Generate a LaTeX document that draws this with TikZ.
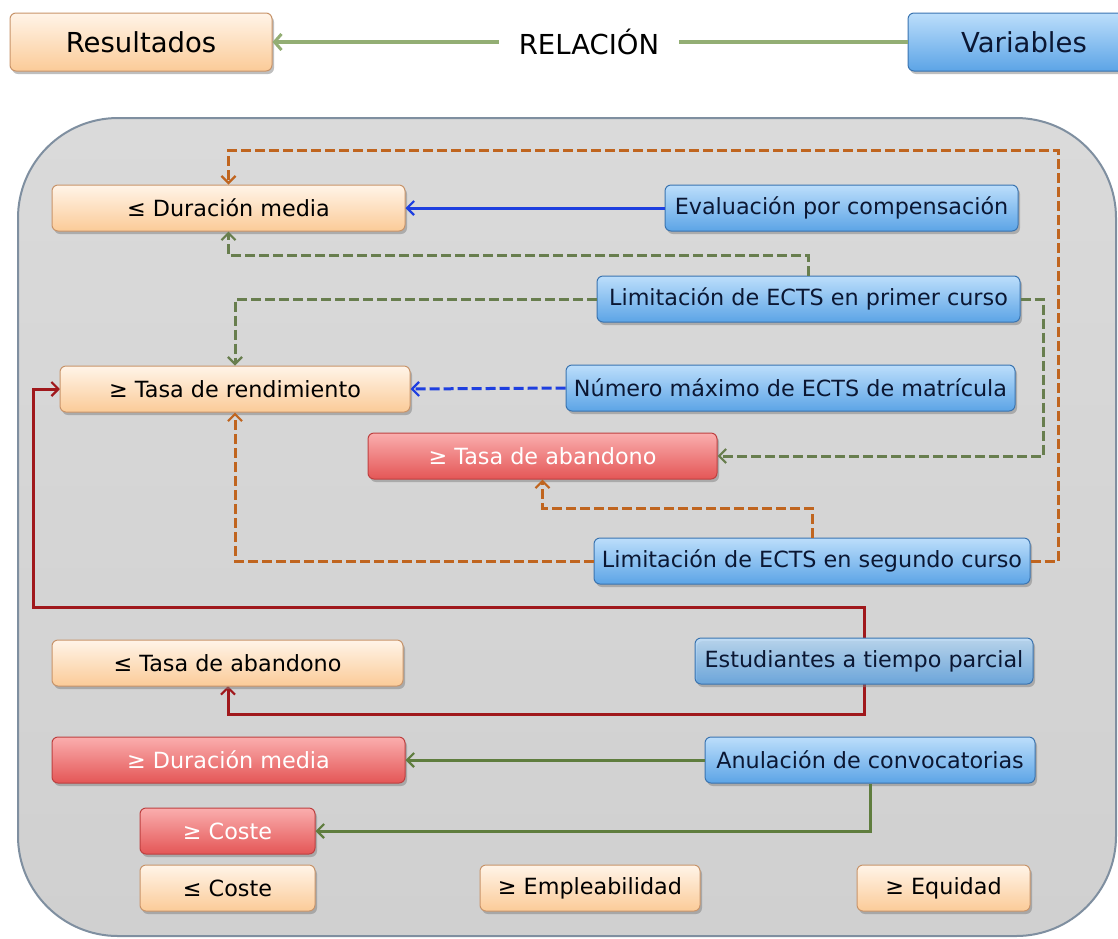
\documentclass[tikz,border=0pt]{standalone}
\usepackage{fontspec}
\setmainfont{DejaVu Sans}
\usetikzlibrary{arrows.meta,shadows}
\definecolor{peachT}{HTML}{FFF4E8}
\definecolor{peachB}{HTML}{FBCB98}
\definecolor{peachD}{HTML}{C8946A}
\definecolor{blueT}{HTML}{BCDEFB}
\definecolor{blueB}{HTML}{5CA4E6}
\definecolor{blueD}{HTML}{3A74B0}
\definecolor{redT}{HTML}{FAAEAE}
\definecolor{redB}{HTML}{E45656}
\definecolor{redD}{HTML}{BE4040}
\definecolor{navy}{HTML}{0B1733}
\definecolor{bgT}{HTML}{DADADA}
\definecolor{bgB}{HTML}{D0D0D0}
\definecolor{bgD}{HTML}{7F8FA0}
\definecolor{oran}{HTML}{C0651F}
\definecolor{olive}{HTML}{687E4E}
\definecolor{lgreen}{HTML}{93AE74}
\definecolor{sgreen}{HTML}{5F7D3E}
\definecolor{dblue}{HTML}{1E3FE0}
\definecolor{dred}{HTML}{A0181C}
\begin{document}
\begin{tikzpicture}[x=1pt,y=-1pt,
  box/.style={rounded corners=6pt, line width=1pt, inner sep=0pt,
    minimum height=46pt, font=\fontsize{22.3}{26}\selectfont,
    drop shadow={shadow xshift=2pt, shadow yshift=-3pt, opacity=0.5}},
  res/.style={box, draw=peachD, top color=peachT, bottom color=peachB, text=black},
  var/.style={box, draw=blueD, top color=blueT, bottom color=blueB, text=navy},
  bad/.style={box, draw=redD, top color=redT, bottom color=redB, text=white},
  big/.style={font=\fontsize{27.5}{30}\selectfont, minimum height=58pt},
  tip/.style={-{Straight Barb[length=7pt,width=14pt,line width=2.2pt]}},
  conn/.style={line width=3pt, tip},
  dsh/.style={dash pattern=on 10pt off 4pt},
  odash/.style={conn, dsh, draw=oran},
  gdash/.style={conn, dsh, draw=olive},
  bline/.style={conn, draw=dblue},
  bdash/.style={conn, dsh, draw=dblue},
  rline/.style={conn, draw=dred},
  gline/.style={conn, draw=sgreen},
]
\clip (0,0) rectangle (1118,938);
\fill[white] (0,0) rectangle (1118,938);

% big panel
\draw[line width=2pt, draw=bgD, top color=bgT, bottom color=bgB, rounded corners=100pt]
  (18,118) rectangle (1116,936);

% header
\node[res, big, minimum width=262pt] (resu) at (141,42) {Resultados};
\node[var, big, minimum width=232pt] (vars) at (1024,42) {Variables};
\node[font=\fontsize{27.5}{30}\selectfont, inner sep=0pt] (rel) at (589,42) {RELACIÓN};
\draw[line width=4.5pt, draw=lgreen] (vars.west) -- ([xshift=20pt]rel.east);
\draw[line width=4.5pt, draw=lgreen, -{Straight Barb[length=7pt,width=16pt,line width=3pt]}] ([xshift=-20pt]rel.west) -- (resu.east);

% connectors drawn first (behind boxes)
\coordinate (rcorner) at (33,607);
\draw[rline] (864,638) -- (864,607) -- (rcorner) |- (60,389);
\draw[rline] (864,684) -- (864,714) -| (228,686);

% result nodes
\node[res, minimum width=353pt] (dm) at (228.5,208) {≤ Duración media};
\node[res, minimum width=350pt] (tr) at (235,389) {≥ Tasa de rendimiento};
\node[bad, minimum width=349pt] (ta) at (542.5,456) {≥ Tasa de abandono};
\node[res, minimum width=351pt] (tb) at (227.5,663) {≤ Tasa de abandono};
\node[bad, minimum width=353pt] (dm2) at (228.5,760) {≥ Duración media};
\node[bad, minimum width=175pt] (co) at (227.5,831) {≥ Coste};
\node[res, minimum width=175pt] (co2) at (227.5,888) {≤ Coste};
\node[res, minimum width=220pt] (emp) at (590,888) {≥ Empleabilidad};
\node[res, minimum width=173pt] (eq) at (943.5,888) {≥ Equidad};

% variable nodes
\node[var, minimum width=353pt] (ev) at (841.5,208) {Evaluación por compensación};
\node[var, minimum width=423pt] (lp) at (808.5,299) {Limitación de ECTS en primer curso};
\node[var, minimum width=449pt] (nm) at (790.5,388) {Número máximo de ECTS de matrícula};
\node[var, minimum width=436pt] (ls) at (812,561) {Limitación de ECTS en segundo curso};
\node[var, minimum width=338pt, fill opacity=0.8, text opacity=1] (est) at (864,661) {Estudiantes a tiempo parcial};
\node[var, minimum width=330pt] (an) at (870,760) {Anulación de convocatorias};

% connectors
\draw[odash] (ls.east) -- (1058,561) -- (1058,150) -| (dm.north);
\draw[bline] (ev.west) -- (dm.east);
\draw[gdash] (lp.north) -- (808.5,255) -| (dm.south);
\draw[gdash] (lp.west) -| (tr.north);
\draw[gdash] (lp.east) -- (1043,299) |- (ta.east);
\draw[bdash] (nm.west) -- (tr.east);
\draw[odash] (ls.north) -- (812,508) -| (ta.south);
\draw[odash] (ls.west) -| (tr.south);
\draw[gline] (an.west) -- (dm2.east);
\draw[gline] (an.south) |- (co.east);
\end{tikzpicture}
\end{document}
